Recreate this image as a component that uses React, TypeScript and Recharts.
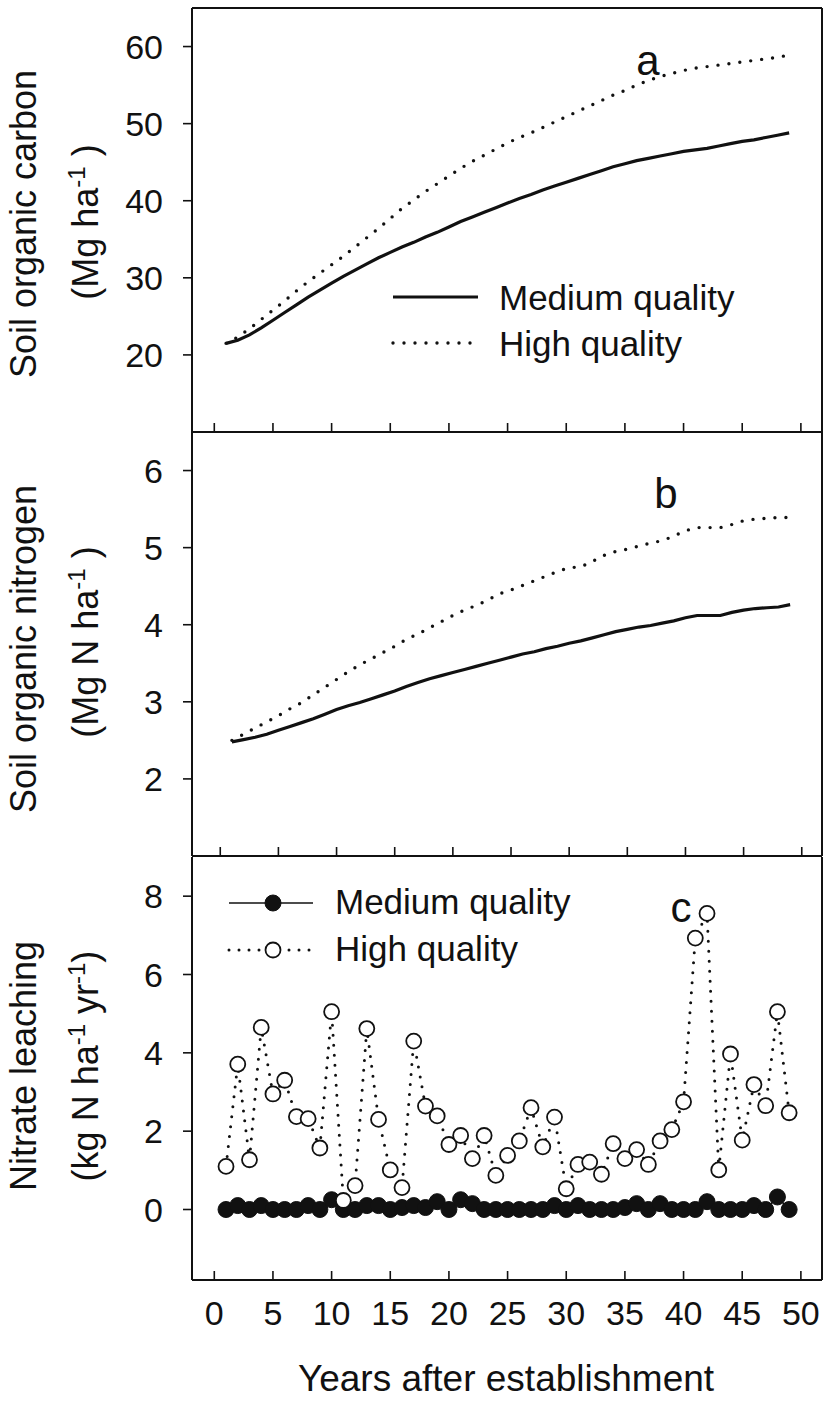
import React from 'react';
import { LineChart, Line, XAxis, YAxis, Legend, Label } from 'recharts';

// years after establishment
const years = [
  1, 2, 3, 4, 5, 6, 7, 8, 9, 10, 11, 12, 13, 14, 15, 16, 17, 18, 19, 20, 21, 22, 23, 24, 25,
  26, 27, 28, 29, 30, 31, 32, 33, 34, 35, 36, 37, 38, 39, 40, 41, 42, 43, 44, 45, 46, 47, 48, 49,
];

// (a) soil organic carbon, Mg ha-1
const socMedium = [
  21.5, 21.9, 22.6, 23.5, 24.5, 25.5, 26.5, 27.5, 28.4, 29.3, 30.2, 31.0, 31.8, 32.6, 33.3, 34.0,
  34.6, 35.3, 35.9, 36.6, 37.3, 37.9, 38.5, 39.1, 39.7, 40.3, 40.8, 41.4, 41.9, 42.4, 42.9, 43.4,
  43.9, 44.4, 44.8, 45.2, 45.5, 45.8, 46.1, 46.4, 46.6, 46.8, 47.1, 47.4, 47.7, 47.9, 48.2, 48.5, 48.8,
];
const socHigh = [
  21.5, 22.3, 23.4, 24.6, 25.8, 27.0, 28.3, 29.5, 30.6, 31.7, 32.8, 34.0, 35.2, 36.4, 37.7, 39.0,
  40.1, 41.2, 42.2, 43.2, 44.2, 45.1, 45.9, 46.7, 47.5, 48.2, 48.8, 49.5, 50.2, 50.9, 51.6, 52.3,
  53.0, 53.7, 54.3, 55.0, 55.6, 56.1, 56.5, 56.9, 57.2, 57.4, 57.6, 57.8, 58.0, 58.2, 58.4, 58.6, 58.9,
];

// (b) soil organic nitrogen, Mg N ha-1
const sonMedium = [
  2.48, 2.51, 2.54, 2.58, 2.63, 2.68, 2.73, 2.78, 2.84, 2.9, 2.95, 2.99, 3.04, 3.09, 3.14, 3.2,
  3.25, 3.3, 3.34, 3.38, 3.42, 3.46, 3.5, 3.54, 3.58, 3.62, 3.65, 3.69, 3.72, 3.76, 3.79, 3.83,
  3.87, 3.91, 3.94, 3.97, 3.99, 4.02, 4.05, 4.09, 4.12, 4.12, 4.12, 4.16, 4.19, 4.21, 4.22, 4.23, 4.26,
];
const sonHigh = [
  2.5, 2.58, 2.66, 2.74, 2.82, 2.91, 2.99, 3.09, 3.19, 3.29, 3.39, 3.48, 3.56, 3.64, 3.72, 3.81,
  3.88, 3.96, 4.04, 4.12, 4.19, 4.25, 4.32, 4.4, 4.45, 4.51, 4.57, 4.63, 4.69, 4.74, 4.75, 4.82,
  4.9, 4.95, 4.98, 5.02, 5.06, 5.09, 5.15, 5.22, 5.26, 5.26, 5.26, 5.3, 5.35, 5.37, 5.38, 5.39, 5.39,
];

// (c) nitrate leaching, kg N ha-1 yr-1
const no3Medium = [
  0, 0.1, 0, 0.1, 0, 0, 0, 0.1, 0, 0.25, 0, 0, 0.1, 0.1, 0, 0.05, 0.1, 0.05, 0.2, 0, 0.25, 0.15,
  0, 0, 0, 0, 0, 0, 0.1, 0, 0.1, 0, 0, 0, 0.05, 0.15, 0, 0.15, 0, 0, 0, 0.2, 0, 0, 0, 0.1, 0, 0.32, 0,
];
const no3High = [
  1.1, 3.71, 1.27, 4.65, 2.95, 3.3, 2.37, 2.32, 1.57, 5.05, 0.23, 0.61, 4.62, 2.3, 1.01, 0.56,
  4.3, 2.64, 2.39, 1.66, 1.89, 1.3, 1.89, 0.87, 1.38, 1.75, 2.6, 1.6, 2.36, 0.53, 1.15, 1.21,
  0.9, 1.68, 1.3, 1.53, 1.15, 1.75, 2.04, 2.75, 6.93, 7.56, 1.01, 3.97, 1.77, 3.19, 2.65, 5.05, 2.47,
];

const seriesOrder = ['medium', 'high'];
const xTicks = [0, 5, 10, 15, 20, 25, 30, 35, 40, 45, 50];
const socTicks = [20, 30, 40, 50, 60];
const sonTicks = [2, 3, 4, 5, 6];
const no3Ticks = [0, 2, 4, 6, 8];

const socData = years.map((year, i) => ({ year, medium: socMedium[i], high: socHigh[i] }));
const sonData = years.map((year, i) => ({ year, medium: sonMedium[i], high: sonHigh[i] }));
const no3Data = years.map((year, i) => ({ year, medium: no3Medium[i], high: no3High[i] }));

const INK = '#111111';
const FONT = '"Liberation Sans", Arial, Helvetica, sans-serif';
const frame = { stroke: INK, strokeWidth: 2 };

const xTick = (withLabel: boolean) => (props: any) => {
  const { x, y, payload } = props;
  return (
    <g>
      <line x1={x} x2={x} y1={y} y2={y - 9} stroke={INK} strokeWidth={1.6} />
      {withLabel && (
        <text x={x} y={y + 45} textAnchor="middle" fontSize={34} fontFamily={FONT} fill={INK}>
          {payload.value}
        </text>
      )}
    </g>
  );
};

const sup = (s: string) => (
  <tspan fontSize={24} dy={-13}>
    {s}
  </tspan>
);

const panelText = (
  line1: string,
  line2: React.ReactNode,
  cy1: number,
  cy2: number,
  letter: string,
  lx: number,
  ly: number,
) => () => (
  <g fontFamily={FONT} fill={INK}>
    <text x={36} y={cy1} transform={`rotate(-90 36 ${cy1})`} textAnchor="middle" fontSize={36}>
      {line1}
    </text>
    <text x={98} y={cy2} transform={`rotate(-90 98 ${cy2})`} textAnchor="middle" fontSize={36}>
      {line2}
    </text>
    <text x={lx} y={ly} textAnchor="middle" fontSize={42}>
      {letter}
    </text>
  </g>
);

const ordered = (payload: any[] = []) =>
  [...payload].sort((a, b) => seriesOrder.indexOf(a.dataKey) - seriesOrder.indexOf(b.dataKey));

const lineLegend = (props: any) => (
  <svg width={420} height={100} style={{ display: 'block' }}>
    {ordered(props.payload).map((entry: any, i: number) => {
      const cy = 27 + i * 46;
      const dotted = entry.dataKey === 'high';
      return (
        <g key={entry.dataKey}>
          <line
            x1={3}
            x2={dotted ? 86 : 88}
            y1={cy}
            y2={cy}
            stroke={INK}
            strokeWidth={dotted ? 3.4 : 3.2}
            strokeDasharray={dotted ? '0 11' : undefined}
            strokeLinecap={dotted ? 'round' : 'butt'}
          />
          <text x={109} y={cy + 12.5} fontSize={35} fontFamily={FONT} fill={INK}>
            {entry.value}
          </text>
        </g>
      );
    })}
  </svg>
);

const markerLegend = (props: any) => (
  <svg width={420} height={100} style={{ display: 'block' }}>
    {ordered(props.payload).map((entry: any, i: number) => {
      const cy = 24 + i * 47;
      const open = entry.dataKey === 'high';
      return (
        <g key={entry.dataKey}>
          <line
            x1={4}
            x2={88}
            y1={cy}
            y2={cy}
            stroke={INK}
            strokeWidth={open ? 3 : 1.5}
            strokeDasharray={open ? '0 10' : undefined}
            strokeLinecap={open ? 'round' : 'butt'}
          />
          <circle
            cx={48}
            cy={cy}
            r={open ? 7.5 : 8}
            fill={open ? '#fff' : INK}
            stroke={INK}
            strokeWidth={open ? 1.8 : 1}
          />
          <text x={110} y={cy + 11} fontSize={35} fontFamily={FONT} fill={INK}>
            {entry.value}
          </text>
        </g>
      );
    })}
  </svg>
);

const yTickStyle = { fontSize: 34, fill: INK, fontFamily: FONT };

export default function App() {
  return (
    <div
      style={{
        position: 'absolute',
        left: 0,
        top: 0,
        width: 825,
        height: 1404,
        background: '#fff',
        fontFamily: FONT,
      }}
    >
      {/* (a) carbon */}
      <div style={{ position: 'absolute', left: 0, top: 0 }}>
        <LineChart width={825} height={440} data={socData} margin={{ top: 7, right: 2, bottom: 7, left: 0 }}>
          <XAxis
            dataKey="year"
            type="number"
            domain={[-1.9, 51.8]}
            ticks={xTicks}
            tick={xTick(false)}
            tickLine={false}
            tickSize={0}
            tickMargin={0}
            axisLine={frame}
            height={1}
            allowDataOverflow
          />
          <XAxis xAxisId="top" orientation="top" type="number" domain={[0, 1]} tick={false} tickLine={false} axisLine={frame} height={1} />
          <YAxis
            type="number"
            domain={[10, 65]}
            ticks={socTicks}
            width={192}
            tickSize={9}
            tickMargin={20}
            tickLine={{ stroke: INK, strokeWidth: 1.6 }}
            axisLine={frame}
            tick={yTickStyle}
            allowDataOverflow
          >
            <Label
              content={panelText(
                'Soil organic carbon',
                <>
                  <tspan>(Mg ha</tspan>
                  {sup('-1')}
                  <tspan dy={13}> )</tspan>
                </>,
                224,
                222,
                'a',
                648,
                75,
              )}
            />
          </YAxis>
          <YAxis yAxisId="right" orientation="right" type="number" domain={[0, 1]} tick={false} tickLine={false} axisLine={frame} width={1} />
          <Legend
            layout="horizontal"
            verticalAlign="middle"
            content={lineLegend}
            wrapperStyle={{ left: 390, top: 270, width: 420, height: 100 }}
          />
          <Line
            name="Medium quality"
            dataKey="medium"
            type="linear"
            stroke={INK}
            strokeWidth={3.2}
            dot={false}
            isAnimationActive={false}
          />
          <Line
            name="High quality"
            dataKey="high"
            type="linear"
            stroke={INK}
            strokeWidth={3.4}
            strokeDasharray="0 11"
            strokeLinecap="round"
            dot={false}
            isAnimationActive={false}
          />
        </LineChart>
      </div>

      {/* (b) nitrogen */}
      <div style={{ position: 'absolute', left: 0, top: 424 }}>
        <LineChart width={825} height={440} data={sonData} margin={{ top: 8, right: 2, bottom: 7, left: 0 }}>
          <XAxis
            dataKey="year"
            type="number"
            domain={[-2.43, 51.74]}
            ticks={xTicks}
            tick={xTick(false)}
            tickLine={false}
            tickSize={0}
            tickMargin={0}
            axisLine={frame}
            height={1}
            allowDataOverflow
          />
          <YAxis
            type="number"
            domain={[1, 6.5]}
            ticks={sonTicks}
            width={192}
            tickSize={9}
            tickMargin={20}
            tickLine={{ stroke: INK, strokeWidth: 1.6 }}
            axisLine={frame}
            tick={yTickStyle}
            allowDataOverflow
          >
            <Label
              content={panelText(
                'Soil organic nitrogen',
                <>
                  <tspan>(Mg N ha</tspan>
                  {sup('-1')}
                  <tspan dy={13}> )</tspan>
                </>,
                225,
                218,
                'b',
                666,
                84,
              )}
            />
          </YAxis>
          <YAxis yAxisId="right" orientation="right" type="number" domain={[0, 1]} tick={false} tickLine={false} axisLine={frame} width={1} />
          <Line
            name="Medium quality"
            dataKey="medium"
            type="linear"
            stroke={INK}
            strokeWidth={3.2}
            dot={false}
            isAnimationActive={false}
          />
          <Line
            name="High quality"
            dataKey="high"
            type="linear"
            stroke={INK}
            strokeWidth={3.4}
            strokeDasharray="0 11"
            strokeLinecap="round"
            dot={false}
            isAnimationActive={false}
          />
        </LineChart>
      </div>

      {/* (c) nitrate leaching */}
      <div style={{ position: 'absolute', left: 0, top: 849 }}>
        <LineChart width={825} height={555} data={no3Data} margin={{ top: 8, right: 2, bottom: 0, left: 0 }}>
          <XAxis
            dataKey="year"
            type="number"
            domain={[-1.9, 51.8]}
            ticks={xTicks}
            tick={xTick(true)}
            tickLine={false}
            tickSize={0}
            tickMargin={0}
            axisLine={frame}
            height={124}
            allowDataOverflow
          >
            <Label
              content={(props: any) => {
                const vb = props.viewBox || { x: 192, y: 431, width: 630 };
                return (
                  <text
                    x={vb.x + vb.width / 2 - 1}
                    y={vb.y + 111}
                    textAnchor="middle"
                    fontSize={37}
                    fontFamily={FONT}
                    fill={INK}
                  >
                    Years after establishment
                  </text>
                );
              }}
            />
          </XAxis>
          <YAxis
            type="number"
            domain={[-1.8, 9]}
            ticks={no3Ticks}
            width={192}
            tickSize={9}
            tickMargin={20}
            tickLine={{ stroke: INK, strokeWidth: 1.6 }}
            axisLine={frame}
            tick={yTickStyle}
            allowDataOverflow
          >
            <Label
              content={panelText(
                'Nitrate leaching',
                <>
                  <tspan>(kg N ha</tspan>
                  {sup('-1')}
                  <tspan dy={13}> yr</tspan>
                  {sup('-1')}
                  <tspan dy={13}>)</tspan>
                </>,
                217,
                217,
                'c',
                681,
                73,
              )}
            />
          </YAxis>
          <YAxis yAxisId="right" orientation="right" type="number" domain={[0, 1]} tick={false} tickLine={false} axisLine={frame} width={1} />
          <Legend
            layout="horizontal"
            verticalAlign="middle"
            content={markerLegend}
            wrapperStyle={{ left: 225, top: 30, width: 420, height: 100 }}
          />
          <Line
            name="Medium quality"
            dataKey="medium"
            type="linear"
            stroke={INK}
            strokeWidth={1.5}
            dot={{ r: 8, fill: INK, stroke: INK, strokeWidth: 1, strokeDasharray: 'none' }}
            isAnimationActive={false}
          />
          <Line
            name="High quality"
            dataKey="high"
            type="linear"
            stroke={INK}
            strokeWidth={3}
            strokeDasharray="0 10"
            strokeLinecap="round"
            dot={{ r: 7.5, fill: '#fff', stroke: INK, strokeWidth: 1.8, strokeDasharray: 'none' }}
            isAnimationActive={false}
          />
        </LineChart>
      </div>
    </div>
  );
}
